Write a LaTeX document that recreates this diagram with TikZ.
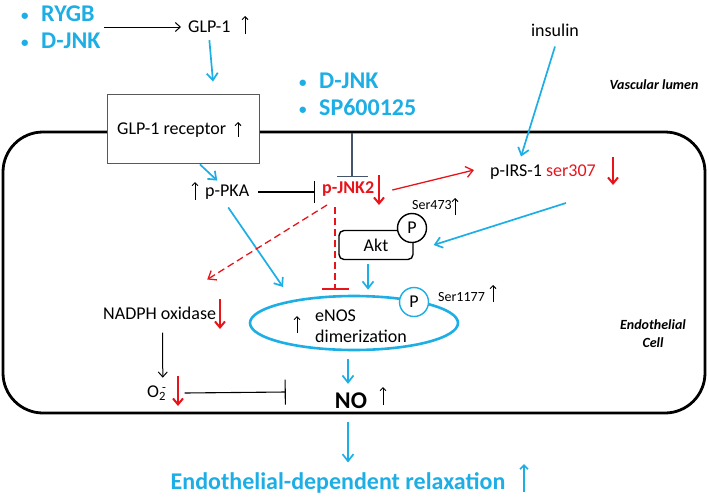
\documentclass[tikz,border=0pt]{standalone}
\usepackage{fontspec}
\setmainfont{Carlito}
\usetikzlibrary{arrows.meta, positioning, shapes.geometric}

\definecolor{cblue}{RGB}{28,174,228}
\definecolor{cred}{RGB}{232,20,28}
\definecolor{slate}{RGB}{68,84,106}

\newcommand{\blt}{\makebox[14pt][l]{\raisebox{1pt}{\fontsize{15}{15}\selectfont\textbullet}}\hspace{6pt}}

\begin{document}
\begin{tikzpicture}[
    x=1pt, y=-1pt,
    txt/.style={font=\fontsize{18}{21}\selectfont, inner sep=0pt},
    small/.style={font=\fontsize{14}{16}\selectfont, inner sep=0pt},
    drug/.style={font=\fontsize{24}{27}\selectfont\bfseries, text=cblue, align=left, inner sep=0pt},
    tag/.style={font=\fontsize{14}{16}\selectfont\bfseries\itshape, align=center, inner sep=0pt},
    blk/.style={-{Straight Barb[length=5pt,width=9pt]}, line width=1pt},
    blu/.style={-{Straight Barb[length=7pt,width=11pt]}, line width=1.7pt, cblue},
    redarr/.style={-{Straight Barb[length=7pt,width=11pt]}, line width=1.3pt, cred},
    longdash/.style={dash pattern=on 7pt off 4pt},
    inh/.style={-{Bar[width=#1]}, line width=1.1pt},
    upind/.style={-{Straight Barb[length=3pt,width=6pt]}, line width=1pt},
    dnind/.style={-{Straight Barb[length=6pt,width=10pt]}, line width=2pt, cred},
    phos/.style={circle, draw, line width=1.4pt, fill=white, minimum size=29pt, inner sep=0pt, font=\fontsize{18}{21}\selectfont}
  ]
  \useasboundingbox (0,0) rectangle (709,498);

  % Cell wall
  \draw[line width=2.8pt, rounded corners=40pt] (3,132) rectangle (705,413);

  % Outside the cell
  \node[drug, anchor=west] (drugs) at (21,27) {\blt RYGB\\\blt D-JNK};
  \node[txt, anchor=west] (glp) at (188,27) {GLP-1};
  \draw[upind] (245,34) -- (245,16);
  \node[drug, anchor=west] (inhib) at (299,94) {\blt D-JNK\\\blt SP600125};
  \node[txt] (insulin) at (555,30) {insulin};
  \node[tag] (lumen) at (654,85) {Vascular lumen};

  % Receptor
  \node[draw=black!65, line width=0.9pt, fill=white, minimum width=152pt, minimum height=69pt] (glpr) at (183,128.5) {};
  \node[txt, anchor=west] (glprtxt) at (117,130) {GLP-1 receptor};
  \draw[upind] (238,137) -- (238,122);

  % Inside the cell
  \node[txt, anchor=west] (pka) at (205,192) {p-PKA};
  \draw[upind] (195,200) -- (195,182);
  \node[txt, anchor=west, text=cred, font=\fontsize{18}{21}\selectfont\bfseries] (jnk) at (322,189) {p-JNK2};
  \draw[dnind] (379,175) -- (379,205);
  \node[txt, anchor=west] (irs) at (490,172) {p-IRS-1 \textcolor{cred}{ser307}};
  \draw[dnind] (613,157) -- (613,185);

  \node[txt, draw, line width=1.4pt, rounded corners=5pt, minimum width=74pt, minimum height=29pt] (akt) at (376,245) {Akt};
  \node[phos] (aktP) at (412,228) {P};
  \node[small, anchor=west] (ser473) at (412,205) {Ser473};
  \draw[upind] (455,215) -- (455,198);

  \node[ellipse, draw=cblue, line width=2.6pt, minimum width=208pt, minimum height=54pt] (enos) at (354,323) {};
  \node[phos, draw=cblue] (enosP) at (414,302) {P};
  \node[txt, anchor=west, align=left] (enostxt) at (315,326) {eNOS\\dimerization};
  \draw[upind] (297,333) -- (297,316);
  \node[small, anchor=west] (ser1177) at (438,297) {Ser1177};
  \draw[upind] (493,302) -- (493,285);

  \node[txt, anchor=west] (nadph) at (103,313) {NADPH oxidase};
  \draw[dnind] (220,299) -- (220,329);
  \node[txt, anchor=west] (o2) at (147,393) {O\textsubscript{2}\kern-4pt\textsuperscript{-}};
  \draw[dnind] (178,376) -- (178,406);
  \node[txt, font=\fontsize{24}{27}\selectfont\bfseries] (no) at (351,401) {NO};
  \draw[upind] (383,405) -- (383,387);

  \node[tag] (ecell) at (653,334) {Endothelial\\[2pt]Cell};

  % Outcome
  \node[drug] (relax) at (338,483) {Endothelial-dependent relaxation};
  \draw[upind, cblue, line width=1.7pt, -{Straight Barb[length=4pt,width=8pt]}] (524,492) -- (524,464);

  % Connectors
  \draw[blk] ([xshift=3pt]drugs.east) -- ([xshift=-7pt]glp.west);
  \draw[blu] ([yshift=-7pt]glp.south) -- ([xshift=30pt,yshift=12pt]glpr.north);
  \draw[blu] ([xshift=17pt,yshift=-1pt]glpr.south) -- ([xshift=-10pt,yshift=4pt]pka.north);
  \draw[blu] ([xshift=1pt,yshift=-8pt]pka.south) -- ([shift={(-71pt,36pt)}]enos.center);
  \draw[inh=22pt] ([xshift=9pt]pka.east) -- ([xshift=-7pt,yshift=-3pt]jnk.west);
  \draw[inh=31pt, slate] (352,133) -- ([xshift=30pt,yshift=4pt]jnk.north west);
  \draw[redarr] ([xshift=18pt,yshift=-1pt]jnk.east) -- ([xshift=-16pt,yshift=2pt]irs.west);
  \draw[redarr, longdash] ([xshift=5pt,yshift=-16pt]jnk.west) -- ([xshift=-9pt,yshift=27pt]nadph.north east);
  \draw[inh=27pt, cred, line width=1.3pt, longdash] ([xshift=13pt,yshift=-18pt]jnk.west) -- ([xshift=-19pt,yshift=5pt]enos.north);
  \draw[blu] ([yshift=-10pt]insulin.south) -- ([xshift=31pt,yshift=8pt]irs.north west);
  \draw[blu] ([xshift=76pt,yshift=-31pt]irs.west) -- ([xshift=20pt]akt.east);
  \draw[blu] ([xshift=-8pt,yshift=-4pt]akt.south) -- ([xshift=14pt,yshift=5pt]enos.north);
  \draw[blk] ([xshift=3pt,yshift=-13pt]nadph.south) -- ([xshift=6pt,yshift=8pt]o2.north);
  \draw[inh=25pt] ([xshift=18pt]o2.east) -- ([xshift=-49pt,yshift=9pt]no.west);
  \draw[blu] ([xshift=-6pt,yshift=-8pt]enos.south) -- ([xshift=-3pt,yshift=9pt]no.north);
  \draw[blu] ([xshift=-3pt,yshift=-13pt]no.south) -- ([xshift=10pt,yshift=10pt]relax.north);

\end{tikzpicture}
\end{document}
